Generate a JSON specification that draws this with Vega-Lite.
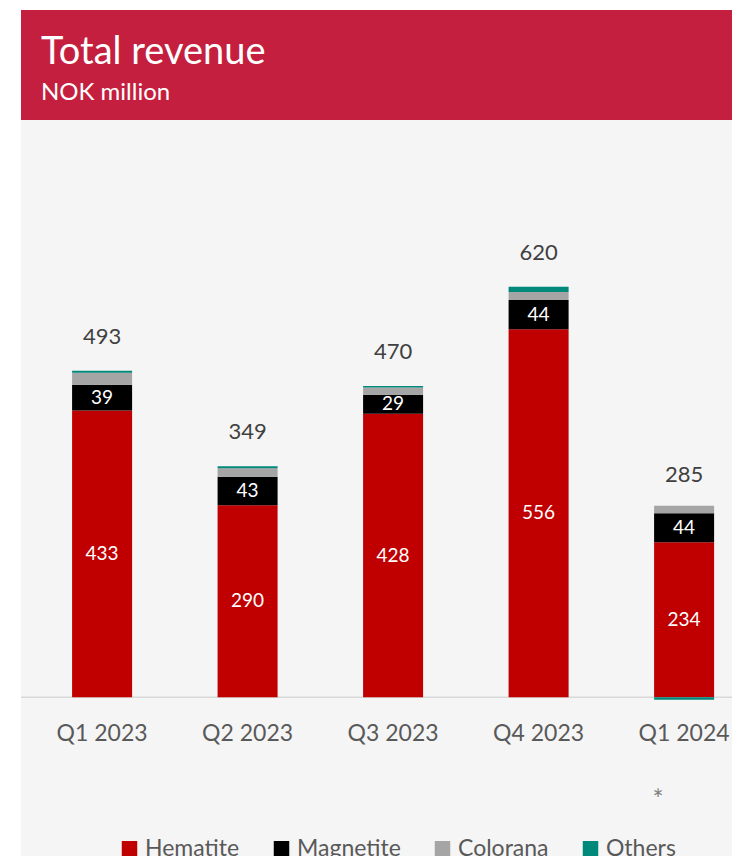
{
  "$schema": "https://vega.github.io/schema/vega-lite/v6.json",
  "background": "white",
  "padding": {"left": 20, "top": 10, "right": 0, "bottom": 0},
  "spacing": 0,
  "config": {"font": "Lato", "view": {"stroke": null}},
  "datasets": {
    "segments": [
      {"quarter": "Q1 2023", "series": "Hematite", "ord": 1, "value": 433},
      {"quarter": "Q1 2023", "series": "Magnetite", "ord": 2, "value": 39},
      {"quarter": "Q1 2023", "series": "Colorana", "ord": 3, "value": 18},
      {"quarter": "Q1 2023", "series": "Others", "ord": 4, "value": 3},
      {"quarter": "Q2 2023", "series": "Hematite", "ord": 1, "value": 290},
      {"quarter": "Q2 2023", "series": "Magnetite", "ord": 2, "value": 43},
      {"quarter": "Q2 2023", "series": "Colorana", "ord": 3, "value": 13},
      {"quarter": "Q2 2023", "series": "Others", "ord": 4, "value": 3},
      {"quarter": "Q3 2023", "series": "Hematite", "ord": 1, "value": 428},
      {"quarter": "Q3 2023", "series": "Magnetite", "ord": 2, "value": 29},
      {"quarter": "Q3 2023", "series": "Colorana", "ord": 3, "value": 11},
      {"quarter": "Q3 2023", "series": "Others", "ord": 4, "value": 2},
      {"quarter": "Q4 2023", "series": "Hematite", "ord": 1, "value": 556},
      {"quarter": "Q4 2023", "series": "Magnetite", "ord": 2, "value": 44},
      {"quarter": "Q4 2023", "series": "Colorana", "ord": 3, "value": 12},
      {"quarter": "Q4 2023", "series": "Others", "ord": 4, "value": 8},
      {"quarter": "Q1 2024", "series": "Hematite", "ord": 1, "value": 234},
      {"quarter": "Q1 2024", "series": "Magnetite", "ord": 2, "value": 44},
      {"quarter": "Q1 2024", "series": "Colorana", "ord": 3, "value": 11},
      {"quarter": "Q1 2024", "series": "Others", "ord": 4, "value": -4}
    ],
    "totals": [
      {"quarter": "Q1 2023", "total": 493},
      {"quarter": "Q2 2023", "total": 349},
      {"quarter": "Q3 2023", "total": 470},
      {"quarter": "Q4 2023", "total": 620},
      {"quarter": "Q1 2024", "total": 285}
    ],
    "notes": [
      {"quarter": "Q1 2024", "note": "*"}
    ]
  },
  "vconcat": [
    {
      "width": 712,
      "height": 110,
      "view": {"fill": "#C41F3E", "stroke": null},
      "data": {"values": []},
      "mark": "point",
      "title": {
        "text": "Total revenue",
        "subtitle": "NOK million",
        "anchor": "start",
        "orient": "top",
        "frame": "group",
        "offset": -95,
        "dx": 20,
        "color": "white",
        "subtitleColor": "white",
        "fontSize": 38,
        "subtitleFontSize": 24,
        "fontWeight": "normal",
        "subtitleFontWeight": "normal",
        "subtitlePadding": 9,
        "font": "Lato",
        "subtitleFont": "Lato"
      }
    },
    {
      "width": 712,
      "height": 736,
      "view": {"fill": "#F5F5F5", "stroke": null},
      "layer": [
        {
          "data": {"values": [{}]},
          "mark": {"type": "rule", "color": "#D9D9D9", "strokeWidth": 1.5},
          "encoding": {"y": {"datum": 0, "type": "quantitative", "scale": {"domain": [-240, 872], "nice": false, "zero": false}, "axis": null}}
        },
        {
          "encoding": {
            "x": {
              "field": "quarter", "type": "nominal", "sort": null,
              "scale": {"paddingInner": 0.5876, "paddingOuter": 0.2405, "align": 0.73},
              "axis": {"title": null, "orient": "bottom", "offset": -123, "domain": false, "ticks": false, "labelPadding": 0, "labelBaseline": "middle", "labelFontSize": 23, "labelColor": "#595959", "labelAngle": 0, "labelFont": "Lato"}
            }
          },
          "layer": [
            {
              "data": {"name": "segments"},
              "mark": {"type": "bar"},
              "encoding": {
                "y": {"field": "value", "type": "quantitative", "stack": "zero", "scale": {"domain": [-240, 872], "nice": false, "zero": false}, "axis": null},
                "color": {
                  "field": "series", "type": "nominal",
                  "scale": {"domain": ["Hematite", "Magnetite", "Colorana", "Others"], "range": ["#C00000", "#000000", "#A5A5A5", "#00897B"]},
                  "legend": {"title": null, "orient": "none", "legendX": 97, "legendY": 827, "direction": "horizontal", "columns": 4, "symbolType": "square", "symbolSize": 240, "symbolStrokeWidth": 0, "labelFontSize": 23, "labelColor": "#595959", "labelOffset": 4, "columnPadding": 30, "labelFont": "Lato"}
                },
                "order": {"field": "ord", "type": "quantitative"}
              }
            },
            {
              "data": {"name": "segments"},
              "transform": [{"filter": {"field": "series", "oneOf": ["Hematite", "Magnetite"]}}],
              "mark": {"type": "text", "color": "white", "fontSize": 19, "baseline": "middle"},
              "encoding": {
                "y": {"field": "value", "type": "quantitative", "stack": "zero", "bandPosition": 0.5},
                "order": {"field": "ord", "type": "quantitative"},
                "text": {"field": "value", "type": "quantitative"}
              }
            },
            {
              "data": {"name": "totals"},
              "mark": {"type": "text", "color": "#404040", "fontSize": 22, "baseline": "middle", "dy": -34},
              "encoding": {
                "y": {"field": "total", "type": "quantitative"},
                "text": {"field": "total", "type": "quantitative"}
              }
            },
            {
              "data": {"name": "notes"},
              "mark": {"type": "text", "color": "#7F7F7F", "fontSize": 26, "baseline": "middle", "dx": -26, "dy": 6},
              "encoding": {
                "y": {"datum": -148, "type": "quantitative"},
                "text": {"field": "note"}
              }
            }
          ]
        }
      ]
    }
  ]
}
